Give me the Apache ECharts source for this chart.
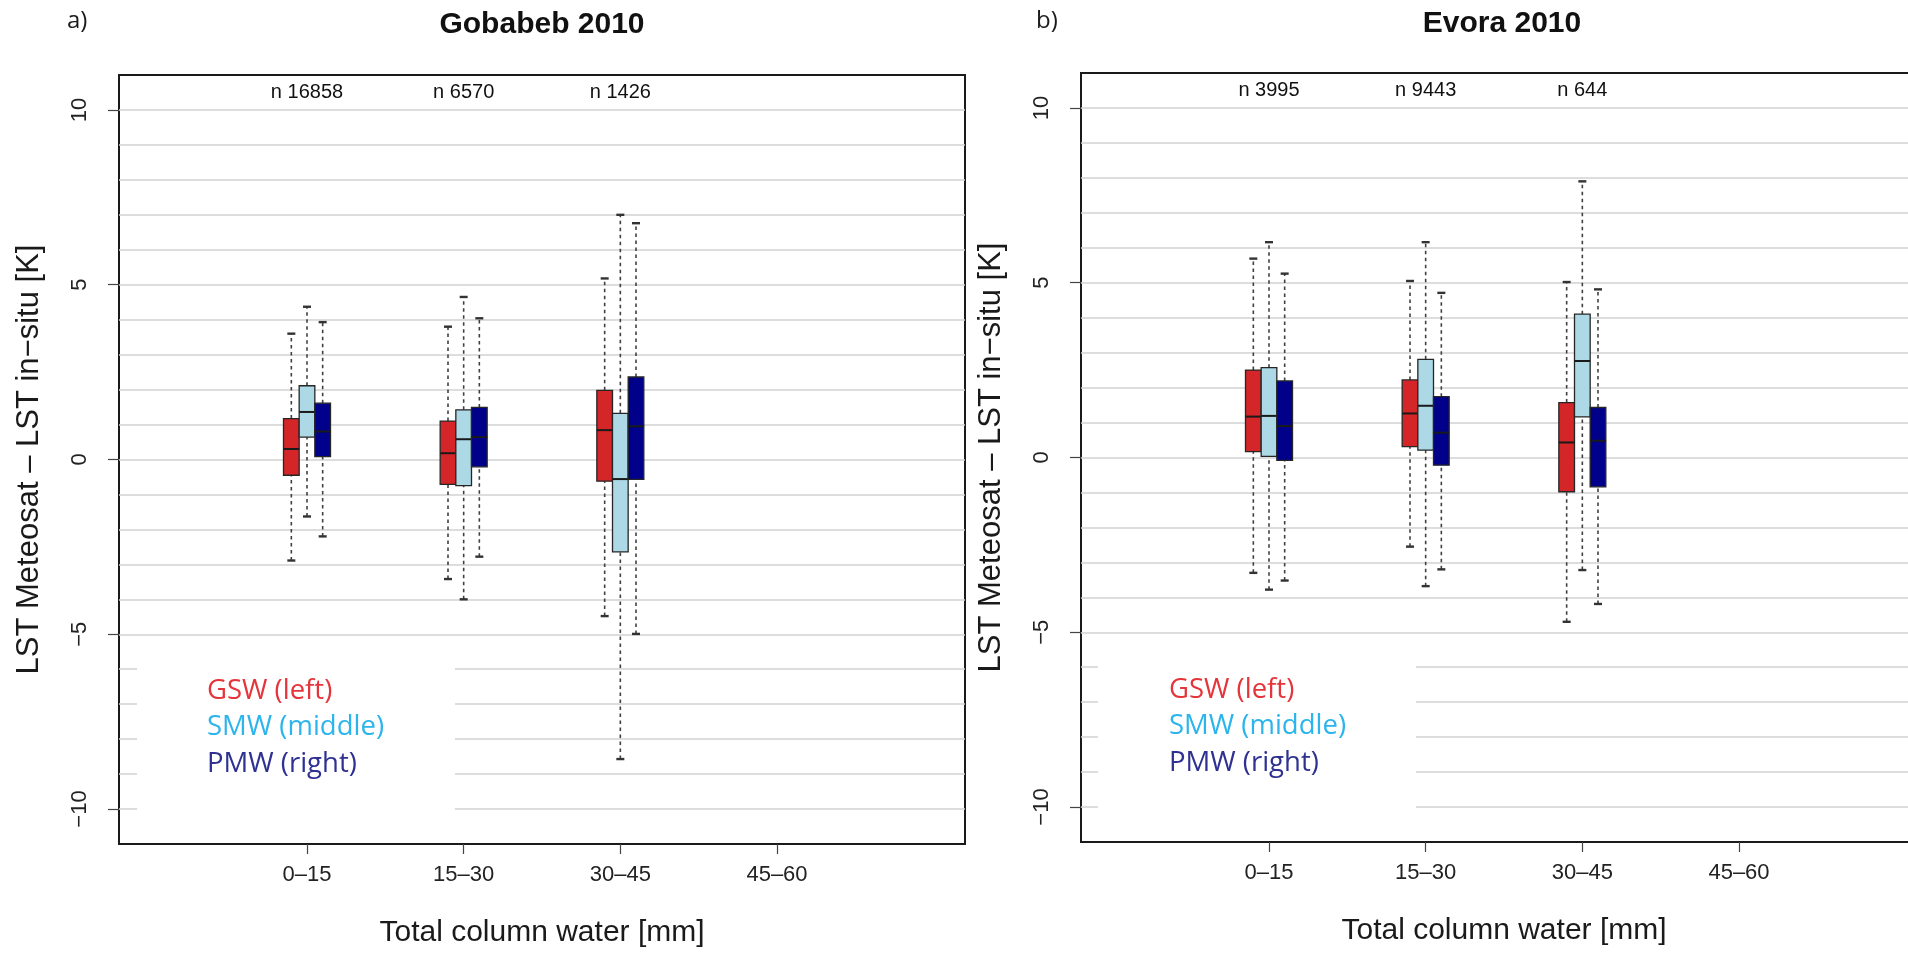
<!DOCTYPE html>
<html>
<head>
<meta charset="utf-8">
<title>LST Meteosat – LST in-situ, Gobabeb and Evora 2010</title>
<script src="https://cdn.jsdelivr.net/npm/echarts@6/dist/echarts.min.js"></script>
<style>
  html, body { margin: 0; padding: 0; background: #ffffff; }
  #chart { width: 1908px; height: 953px; }
</style>
</head>
<body>
<div id="chart"></div>
<script>
// Total column water classes [mm]
const categories = ['0–15', '15–30', '30–45', '45–60'];

// Box statistics per class: [lower whisker, Q1, median, Q3, upper whisker] in K
const gobabebGSW = [[-2.89, -0.45, 0.30, 1.17, 3.60], [-3.42, -0.71, 0.18, 1.10, 3.80], [-4.48, -0.62, 0.84, 1.98, 5.18]];
const gobabebSMW = [[-1.63, 0.64, 1.36, 2.11, 4.37], [-4.00, -0.75, 0.58, 1.42, 4.65], [-8.57, -2.64, -0.56, 1.32, 7.00]];
const gobabebPMW = [[-2.20, 0.08, 0.80, 1.61, 3.93], [-2.78, -0.21, 0.64, 1.49, 4.04], [-4.99, -0.57, 0.95, 2.36, 6.76]];

const evoraGSW = [[-3.30, 0.17, 1.17, 2.50, 5.69], [-2.55, 0.31, 1.26, 2.22, 5.05], [-4.70, -0.98, 0.43, 1.57, 5.02]];
const evoraSMW = [[-3.78, 0.03, 1.19, 2.57, 6.16], [-3.68, 0.21, 1.48, 2.81, 6.16], [-3.22, 1.16, 2.76, 4.10, 7.90]];
const evoraPMW = [[-3.52, -0.08, 0.90, 2.19, 5.26], [-3.20, -0.22, 0.71, 1.74, 4.71], [-4.19, -0.84, 0.48, 1.43, 4.81]];

// Number of matchups per class
const gobabebCounts = [16858, 6570, 1426];
const evoraCounts = [3995, 9443, 644];

// Labelled ticks on both axes
const yTickValues = [-10, -5, 0, 5, 10];
const xTickValues = [1, 2, 3, 4];

const methodLabels = ['GSW (left)', 'SMW (middle)', 'PMW (right)'];

const BOX_WIDTH = 0.1;
const SLOT_OFFSET = [-0.1, 0, 0.1];
const BOX_FILL = ['#d42528', '#add8e6', '#00008b'];
const LEGEND_TEXT = ['#e5343a', '#2bb5ec', '#2e3192'];
const R_FONT = "'Liberation Sans', Arial, Helvetica, sans-serif";
const NOTE_FONT = "'Open Sans', 'Noto Sans', sans-serif";

function renderBox(params, api) {
  const x = api.value(0);
  const pLo = api.coord([x, api.value(1)]);
  const pQ1 = api.coord([x, api.value(2)]);
  const pMed = api.coord([x, api.value(3)]);
  const pQ3 = api.coord([x, api.value(4)]);
  const pHi = api.coord([x, api.value(5)]);
  const half = api.size([BOX_WIDTH, 0])[0] / 2;
  const cap = 4;
  const fill = BOX_FILL[params.seriesIndex % 3];
  const whisker = { stroke: '#404040', lineWidth: 1.6, lineDash: [3.5, 3.5] };
  const capStyle = { stroke: '#333333', lineWidth: 2.4 };
  return {
    type: 'group',
    children: [
      { type: 'line', shape: { x1: pLo[0], y1: pLo[1], x2: pQ1[0], y2: pQ1[1] }, style: whisker },
      { type: 'line', shape: { x1: pQ3[0], y1: pQ3[1], x2: pHi[0], y2: pHi[1] }, style: whisker },
      { type: 'line', shape: { x1: pLo[0] - cap, y1: pLo[1], x2: pLo[0] + cap, y2: pLo[1] }, style: capStyle },
      { type: 'line', shape: { x1: pHi[0] - cap, y1: pHi[1], x2: pHi[0] + cap, y2: pHi[1] }, style: capStyle },
      {
        type: 'rect',
        shape: { x: pQ3[0] - half, y: pQ3[1], width: half * 2, height: pQ1[1] - pQ3[1] },
        style: { fill: fill, stroke: '#262626', lineWidth: 1.3 }
      },
      { type: 'line', shape: { x1: pMed[0] - half, y1: pMed[1], x2: pMed[0] + half, y2: pMed[1] }, style: { stroke: '#1a1a1a', lineWidth: 2 } }
    ]
  };
}

function boxSeries(gridIdx, stats, slot) {
  return {
    type: 'custom',
    xAxisIndex: gridIdx,
    yAxisIndex: gridIdx * 2,
    z: 5,
    renderItem: renderBox,
    encode: { x: 0, y: [1, 2, 3, 4, 5] },
    data: stats.map((s, i) => [i + 1 + SLOT_OFFSET[slot]].concat(s))
  };
}

function countSeries(gridIdx, counts) {
  return {
    type: 'custom',
    xAxisIndex: gridIdx,
    yAxisIndex: gridIdx * 2,
    z: 6,
    renderItem: function (params, api) {
      const p = api.coord([api.value(0), 10.5]);
      return {
        type: 'text',
        x: p[0],
        y: p[1],
        style: {
          text: 'n ' + api.value(1),
          fill: '#111111',
          font: '20px ' + R_FONT,
          align: 'center',
          verticalAlign: 'middle'
        }
      };
    },
    data: counts.map((n, i) => [i + 1, n])
  };
}

function xAxisFor(gridIdx) {
  return {
    type: 'value',
    gridIndex: gridIdx,
    position: 'bottom',
    min: -0.2,
    max: 5.2,
    axisLine: { show: false, onZero: false },
    splitLine: { show: false },
    axisTick: { show: true, customValues: xTickValues, length: 10, lineStyle: { color: '#444444', width: 1.2 } },
    axisLabel: {
      customValues: xTickValues,
      formatter: v => categories[Math.round(v) - 1],
      fontSize: 22, fontFamily: R_FONT, color: '#222222', margin: 20
    },
    name: 'Total column water [mm]',
    nameLocation: 'middle',
    nameGap: 74,
    nameTextStyle: { fontSize: 30, fontFamily: R_FONT, color: '#1a1a1a' }
  };
}

// Labelled axis: ticks and numbers at multiples of 5
function yAxisFor(gridIdx) {
  return {
    type: 'value',
    gridIndex: gridIdx,
    position: 'left',
    min: -11,
    max: 11,
    interval: 1,
    axisLine: { show: false, onZero: false },
    splitLine: { show: false },
    axisTick: { show: true, customValues: yTickValues, length: 11, lineStyle: { color: '#444444', width: 1.2 } },
    axisLabel: {
      customValues: yTickValues,
      formatter: v => (v < 0 ? '−' + Math.abs(v) : String(v)),
      rotate: 90,
      fontSize: 22, fontFamily: R_FONT, color: '#222222', margin: 28
    },
    name: 'LST Meteosat – LST in−situ [K]',
    nameLocation: 'middle',
    nameRotate: 90,
    nameGap: 74,
    nameTextStyle: { fontSize: 31, fontFamily: R_FONT, color: '#1a1a1a' }
  };
}

// Companion axis carrying the horizontal grid lines at every kelvin
function yGridAxisFor(gridIdx) {
  return {
    type: 'value',
    gridIndex: gridIdx,
    position: 'left',
    min: -11,
    max: 11,
    interval: 1,
    axisLine: { show: false, onZero: false },
    axisTick: { show: false },
    axisLabel: { show: false },
    splitLine: { show: true, showMinLine: false, showMaxLine: false, lineStyle: { color: '#d2d2d2', width: 1.6 } }
  };
}

// Legend block: a white panel masking the grid lines, with coloured method names
function legendBlock(panelLeft, textLeft, firstY) {
  const items = [{
    type: 'rect',
    z: 3,
    shape: { x: panelLeft, y: firstY - 42, width: 318, height: 190 },
    style: { fill: '#ffffff' }
  }];
  methodLabels.forEach((label, k) => {
    items.push({
      type: 'text',
      z: 4,
      x: textLeft,
      y: firstY + k * 36.5,
      style: { text: label, fill: LEGEND_TEXT[k], font: '27.5px ' + NOTE_FONT, align: 'left', verticalAlign: 'middle' }
    });
  });
  return items;
}

const chart = echarts.init(document.getElementById('chart'), null, { renderer: 'canvas' });

const gridFrame = { show: true, borderColor: '#1a1a1a', borderWidth: 2, backgroundColor: 'transparent', containLabel: false, outerBoundsMode: 'none' };

const option = {
  backgroundColor: '#ffffff',
  animation: false,
  grid: [
    Object.assign({ left: 119, top: 75, width: 846, height: 769 }, gridFrame),
    Object.assign({ left: 1081, top: 73, width: 846, height: 769 }, gridFrame)
  ],
  xAxis: [xAxisFor(0), xAxisFor(1)],
  yAxis: [yAxisFor(0), yGridAxisFor(0), yAxisFor(1), yGridAxisFor(1)],
  series: [
    boxSeries(0, gobabebGSW, 0),
    boxSeries(0, gobabebSMW, 1),
    boxSeries(0, gobabebPMW, 2),
    boxSeries(1, evoraGSW, 0),
    boxSeries(1, evoraSMW, 1),
    boxSeries(1, evoraPMW, 2),
    countSeries(0, gobabebCounts),
    countSeries(1, evoraCounts)
  ],
  graphic: [
    { type: 'text', x: 67, y: 21, style: { text: 'a)', fill: '#1a1a1a', font: '24px ' + NOTE_FONT, verticalAlign: 'middle' } },
    { type: 'text', x: 1036, y: 21, style: { text: 'b)', fill: '#1a1a1a', font: '24px ' + NOTE_FONT, verticalAlign: 'middle' } },
    { type: 'text', x: 542, y: 25, style: { text: 'Gobabeb 2010', fill: '#111111', font: 'bold 30px ' + R_FONT, align: 'center', verticalAlign: 'middle' } },
    { type: 'text', x: 1502, y: 24, style: { text: 'Evora 2010', fill: '#111111', font: 'bold 30px ' + R_FONT, align: 'center', verticalAlign: 'middle' } }
  ].concat(legendBlock(137, 207, 691), legendBlock(1098, 1169, 690))
};

chart.setOption(option);
</script>
</body>
</html>
